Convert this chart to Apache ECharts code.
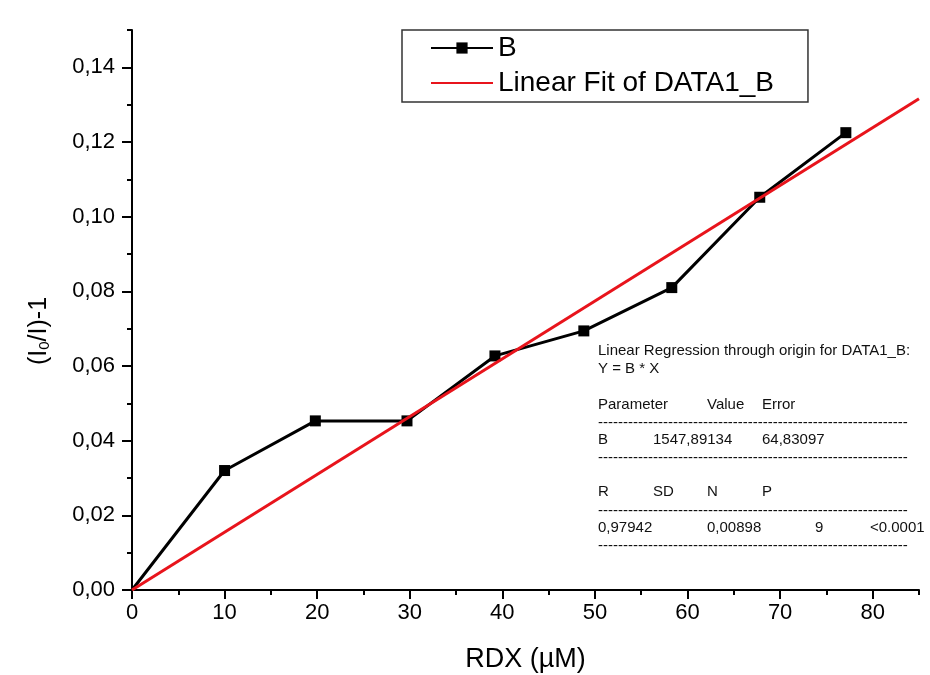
<!DOCTYPE html>
<html>
<head>
<meta charset="utf-8">
<script src="https://cdn.jsdelivr.net/npm/echarts@6/dist/echarts.min.js"></script>
<style>
html,body{margin:0;padding:0;background:#ffffff;}
#chart{width:930px;height:675px;}
</style>
</head>
<body>
<div id="chart"></div>
<script>
// ---- data ----
const rdx = [0, 10, 19.8, 29.7, 39.2, 48.8, 58.3, 67.8, 77.1];
const response = [0, 0.0320, 0.0453, 0.0453, 0.0627, 0.0694, 0.0810, 0.1052, 0.1225];
const fitSlope = 0.00154789134;          // B = 1547,89134 (per M) -> per µM
const fitX = [0, 85];
const xTicks = [0, 10, 20, 30, 40, 50, 60, 70, 80];
const yTicks = [0, 0.02, 0.04, 0.06, 0.08, 0.10, 0.12, 0.14];
const seriesNames = ['B', 'Linear Fit of DATA1_B'];
const statsTitle = ['Linear Regression through origin for DATA1_B:', 'Y = B * X'];
const statsHead1 = ['Parameter', 'Value', 'Error'];
const statsRow1 = ['B', '1547,89134', '64,83097'];
const statsHead2 = ['R', 'SD', 'N', 'P'];
const statsRow2 = ['0,97942', '0,00898', '9', '<0.0001'];

const FONT = 'Liberation Sans, Arial, sans-serif';
const chart = echarts.init(document.getElementById('chart'), null, {renderer: 'canvas'});

const bData = rdx.map((x, i) => i === 0 ? {value: [x, response[i]], symbolSize: 0} : [x, response[i]]);
const fitData = fitX.map(x => [x, x * fitSlope]);
const fmt = v => v.toFixed(2).replace('.', ',');

// stats block
const dash = '-'.repeat(62);
const sx = 598;
function txt(x, y, s) {
  return {type: 'text', left: x, top: y - 9, style: {text: s, font: '15px ' + FONT, fill: '#111'}};
}
const graphics = [];
graphics.push(txt(sx, 352, statsTitle[0]));
graphics.push(txt(sx, 370, statsTitle[1]));
[sx, 707, 762].forEach((x, i) => graphics.push(txt(x, 406, statsHead1[i])));
graphics.push(txt(sx, 424, dash));
[sx, 653, 762].forEach((x, i) => graphics.push(txt(x, 441, statsRow1[i])));
graphics.push(txt(sx, 459, dash));
[sx, 653, 707, 762].forEach((x, i) => graphics.push(txt(x, 493, statsHead2[i])));
graphics.push(txt(sx, 512, dash));
[sx, 707, 815, 870].forEach((x, i) => graphics.push(txt(x, 529, statsRow2[i])));
graphics.push(txt(sx, 547, dash));

const axisCommon = {
  type: 'value',
  axisLine: {show: true, onZero: false, lineStyle: {color: '#000', width: 2}},
  splitLine: {show: false}
};

const option = {
  backgroundColor: '#ffffff',
  animation: false,
  grid: {left: 132, right: 11, top: 30, bottom: 85, outerBoundsMode: 'none', containLabel: false},
  legend: {
    orient: 'vertical',
    left: 402, top: 30,
    padding: [4, 34, 5, 28],
    itemGap: 7,
    itemWidth: 62, itemHeight: 14,
    itemTextGap: 10,
    borderColor: '#333', borderWidth: 1.5,
    textStyle: {fontFamily: FONT, fontSize: 28, color: '#000'},
    data: [{name: seriesNames[0]}, {name: seriesNames[1], itemStyle: {opacity: 0}}]
  },
  xAxis: [
    Object.assign({}, axisCommon, {
      min: 0, max: 85, interval: 5,
      axisTick: {show: true, length: 5, lineStyle: {color: '#000', width: 2}},
      axisLabel: {show: true, customValues: xTicks, margin: 12, fontFamily: FONT, fontSize: 22, color: '#000'},
      name: 'RDX (µM)', nameLocation: 'middle', nameGap: 56,
      nameTextStyle: {fontFamily: FONT, fontSize: 27, color: '#000'}
    }),
    Object.assign({}, axisCommon, {
      min: 0, max: 85, interval: 10, position: 'bottom',
      axisLine: {show: false},
      axisTick: {show: true, length: 9, customValues: xTicks, lineStyle: {color: '#000', width: 2}},
      axisLabel: {show: false}
    })
  ],
  yAxis: [
    Object.assign({}, axisCommon, {
      min: 0, max: 0.15, interval: 0.01, position: 'left',
      axisTick: {show: true, length: 5, lineStyle: {color: '#000', width: 2}},
      axisLabel: {show: true, customValues: yTicks, margin: 17, formatter: fmt, fontFamily: FONT, fontSize: 22, color: '#000'},
      name: '(I{sub|0}/I)-1', nameLocation: 'middle', nameGap: 80, nameRotate: 90,
      nameTextStyle: {fontFamily: FONT, fontSize: 25, color: '#000', padding: [0, 42, 0, 0],
        rich: {sub: {fontFamily: FONT, fontSize: 15, color: '#000', verticalAlign: 'bottom', padding: [11, 0, 0, 0]}}}
    }),
    Object.assign({}, axisCommon, {
      min: 0, max: 0.15, interval: 0.02, position: 'left',
      axisLine: {show: false},
      axisTick: {show: true, length: 10, customValues: yTicks, lineStyle: {color: '#000', width: 2}},
      axisLabel: {show: false}
    })
  ],
  series: [
    {
      name: seriesNames[0], type: 'line', data: bData,
      xAxisIndex: 0, yAxisIndex: 0,
      symbol: 'rect', symbolSize: 11, showAllSymbol: true,
      lineStyle: {color: '#000', width: 3},
      itemStyle: {color: '#000'},
      clip: false, z: 2
    },
    {
      name: seriesNames[1], type: 'line', data: fitData,
      xAxisIndex: 0, yAxisIndex: 0,
      symbol: 'none',
      lineStyle: {color: '#e8141c', width: 3},
      itemStyle: {color: '#e8141c'},
      clip: false, z: 3
    }
  ],
  graphic: graphics
};
chart.setOption(option);
</script>
</body>
</html>
